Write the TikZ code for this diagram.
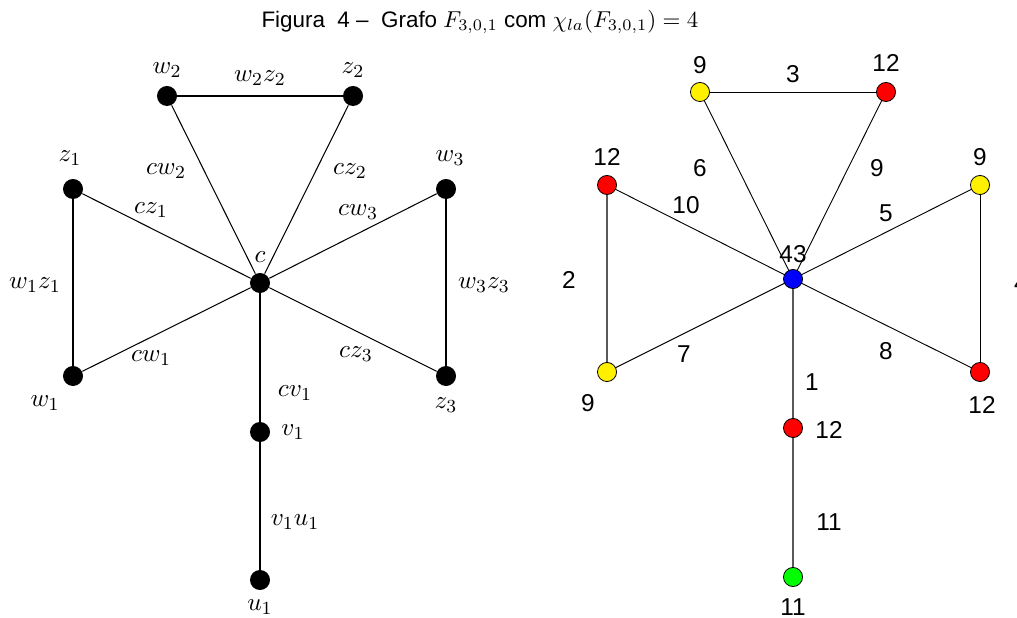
\documentclass[tikz,border=0pt]{standalone}
\usepackage{fontspec}
\setsansfont{Liberation Sans}
\definecolor{vyel}{RGB}{255,240,0}
\definecolor{vred}{RGB}{255,0,0}
\definecolor{vblue}{RGB}{0,0,255}
\definecolor{vgreen}{RGB}{0,255,0}
\tikzset{
  bv/.style={circle,fill=black,inner sep=0pt,minimum size=8.7pt},
  cv/.style={circle,draw=black,line width=0.35pt,inner sep=0pt,minimum size=8.3pt},
  ledge/.style={line width=0.45pt,black},
  redge/.style={line width=0.4pt,black},
  gedge/.style={line width=0.5pt,black!65},
  ml/.style={inner sep=0pt,font=\fontsize{10.95}{13}\selectfont},
  nl/.style={inner sep=0pt,font=\fontsize{10.6}{12}\selectfont\sffamily},
}
\begin{document}
\begin{tikzpicture}[x=0.4348pt,y=-0.4348pt]
\useasboundingbox (0,0) rectangle (1017,618);
\node[inner sep=0pt,font=\fontsize{9.75}{11}\selectfont\sffamily] (title) at (480,22) {Figura\ \ 4 --\ \ Grafo $F_{3,0,1}$ com $\chi_{la}(F_{3,0,1})=4$};
% left graph
\node[bv] (c) at (260,283) {};
\node[bv] (w2) at (167,96) {};
\node[bv] (z2) at (353,96) {};
\node[bv] (z1) at (73,189) {};
\node[bv] (w1) at (73,376) {};
\node[bv] (w3) at (446,189) {};
\node[bv] (z3) at (446,376) {};
\node[bv] (v1) at (260,432) {};
\node[bv] (u1) at (260,580) {};
\draw[ledge] (w2) -- (z2);
\draw[ledge] (z1) -- (w1);
\draw[ledge] (w3) -- (z3);
\foreach \n in {w2,z2,z1,w1,w3,z3,v1} \draw[ledge] (c) -- (\n);
\draw[ledge] (v1) -- (u1);
\node[ml] (lw2) at (167,70) {$w_2$};
\node[ml] (lz2) at (353,70) {$z_2$};
\node[ml] (lw2z2) at (260,78) {$w_2z_2$};
\node[ml] (lz1) at (70,158) {$z_1$};
\node[ml] (lw3) at (450,158) {$w_3$};
\node[ml] (lcw2) at (166,171) {$cw_2$};
\node[ml] (lcz2) at (350,171) {$cz_2$};
\node[ml] (lcz1) at (151,210) {$cz_1$};
\node[ml] (lcw3) at (358,212) {$cw_3$};
\node[ml] (lc) at (260,257) {$c$};
\node[ml] (lw1z1) at (35,285) {$w_1z_1$};
\node[ml] (lw3z3) at (484,285) {$w_3z_3$};
\node[ml] (lcw1) at (151,358) {$cw_1$};
\node[ml] (lcz3) at (356,354) {$cz_3$};
\node[ml] (lw1) at (45,403) {$w_1$};
\node[ml] (lz3) at (446,405) {$z_3$};
\node[ml] (lcv1) at (295,393) {$cv_1$};
\node[ml] (lv1) at (293,432) {$v_1$};
\node[ml] (lv1u1) at (295,522) {$v_1u_1$};
\node[ml] (lu1) at (260,607) {$u_1$};
% right graph
\coordinate (Cp) at (793,279);
\coordinate (A1p) at (700,92);
\coordinate (A2p) at (886,92);
\coordinate (B1p) at (607,185);
\coordinate (B2p) at (607,372);
\coordinate (D1p) at (980,185);
\coordinate (D2p) at (980,372);
\coordinate (Vp) at (793,428);
\coordinate (Up) at (793,577);
\draw[redge] (A1p) -- (A2p);
\draw[gedge] (B1p) -- (B2p);
\draw[redge] (D1p) -- (D2p);
\foreach \n in {A1p,A2p,B1p,B2p,D1p,D2p} \draw[redge] (Cp) -- (\n);
\draw[gedge] (Cp) -- (Vp) -- (Up);
\node[cv,fill=vblue] (C) at (Cp) {};
\node[cv,fill=vyel] (A1) at (A1p) {};
\node[cv,fill=vred] (A2) at (A2p) {};
\node[cv,fill=vred] (B1) at (B1p) {};
\node[cv,fill=vyel] (B2) at (B2p) {};
\node[cv,fill=vyel] (D1) at (D1p) {};
\node[cv,fill=vred] (D2) at (D2p) {};
\node[cv,fill=vred] (V) at (Vp) {};
\node[cv,fill=vgreen] (U) at (Up) {};
\node[nl] (nA1) at (700,65) {9};
\node[nl] (nA2) at (886,63) {12};
\node[nl] (n3) at (793,74) {3};
\node[nl] (nB1) at (607,157) {12};
\node[nl] (nD1) at (980,157) {9};
\node[nl] (n6) at (700,168) {6};
\node[nl] (n9) at (877,168) {9};
\node[nl] (n10) at (686,205) {10};
\node[nl] (n5) at (886,213) {5};
\node[nl] (nC) at (793,254) {43};
\node[nl] (n2) at (569,280) {2};
\node[nl] (n4) at (1021,283) {4};
\node[nl] (n7) at (684,354) {7};
\node[nl] (n8) at (886,351) {8};
\node[nl] (nB2) at (588,403) {9};
\node[nl] (nD2) at (982,405) {12};
\node[nl] (n1) at (812,382) {1};
\node[nl] (nV) at (829,430) {12};
\node[nl] (n11) at (829,522) {11};
\node[nl] (nU) at (793,607) {11};
\end{tikzpicture}
\end{document}
